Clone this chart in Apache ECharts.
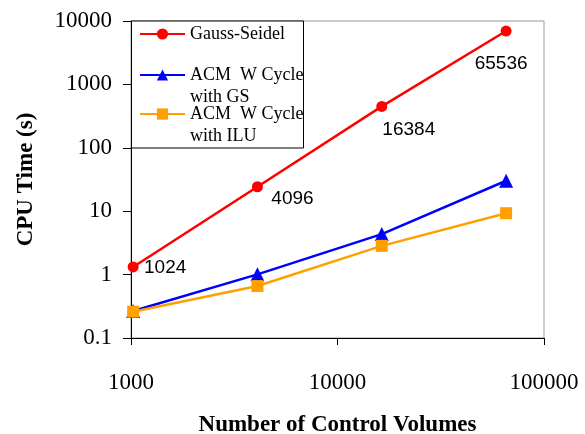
<!DOCTYPE html>
<html>
<head>
<meta charset="utf-8">
<script src="https://cdn.jsdelivr.net/npm/echarts@6/dist/echarts.min.js"></script>
<style>
  html, body { margin: 0; padding: 0; background: #fff; }
  #main { width: 585px; height: 434px; }
</style>
</head>
<body>
<div id="main"></div>
<script>
// control volumes (x) and CPU times (s)
var volumes = [1024, 4096, 16384, 65536];
var gaussSeidel = [1.32, 24.3, 450, 6950];
var acmGS = [0.267, 1.01, 4.35, 30.2];
var acmILU = [0.26, 0.66, 2.84, 9.3];
var seriesNames = ['Gauss-Seidel', 'ACM  W Cycle\nwith GS', 'ACM  W Cycle\nwith ILU'];

// where the point labels sit, relative to each point
var labelOffsets = [[32, 1], [35, 12], [27, 23], [-5, 33]];

function pairs(ys, withLabels) {
  return volumes.map(function (x, i) {
    var item = { value: [x, ys[i]] };
    if (withLabels) item.label = { offset: labelOffsets[i] };
    return item;
  });
}

var serif = 'Liberation Serif';
var myChart = echarts.init(document.getElementById('main'));

var axisLabelFmt = function (v) { return String(+Number(v).toPrecision(6)); };
// blank line on top so the icon lines up with the first text line
var twoLine = function (name) { return '\n' + name; };

var legendBase = {
  left: 139, z: 20, itemWidth: 45, itemHeight: 14, itemGap: 0, padding: 0,
  textStyle: { fontFamily: serif, fontSize: 18, color: '#000', lineHeight: 22 }
};

var option = {
  animation: false,
  backgroundColor: '#fff',
  grid: {
    left: 131, right: 41, top: 21, bottom: 96,
    outerBoundsMode: 'none',
    show: true, borderColor: '#999', borderWidth: 1
  },
  xAxis: {
    type: 'log', logBase: 10, min: 1000, max: 100000,
    name: 'Number of Control Volumes',
    nameLocation: 'middle', nameGap: 76,
    nameTextStyle: { fontFamily: serif, fontWeight: 'bold', fontSize: 23, color: '#000' },
    axisLine: { lineStyle: { color: '#000', width: 1 } },
    axisTick: { length: 7, lineStyle: { color: '#000' } },
    axisLabel: { margin: 33, fontFamily: serif, fontSize: 23, color: '#000', formatter: axisLabelFmt },
    splitLine: { show: false },
    minorTick: { show: false }
  },
  yAxis: {
    type: 'log', logBase: 10, min: 0.1, max: 10000,
    name: 'CPU Time (s)',
    nameLocation: 'middle', nameGap: 93,
    nameTextStyle: { fontFamily: serif, fontWeight: 'bold', fontSize: 23, color: '#000' },
    axisLine: { show: true, lineStyle: { color: '#000', width: 1 } },
    axisTick: { show: true, length: 8, lineStyle: { color: '#000' } },
    axisLabel: { margin: 19, fontFamily: serif, fontSize: 23, color: '#000', formatter: axisLabelFmt },
    splitLine: { show: false }
  },
  graphic: [{
    type: 'rect', z: 10, silent: true,
    shape: { x: 131.5, y: 21, width: 172, height: 127 },
    style: { fill: '#fff', stroke: '#000', lineWidth: 1 }
  }],
  legend: [
    Object.assign({}, legendBase, { data: [seriesNames[0]], top: 23 }),
    Object.assign({}, legendBase, { data: [seriesNames[1]], top: 42, formatter: twoLine }),
    Object.assign({}, legendBase, { data: [seriesNames[2]], top: 81, formatter: twoLine })
  ],
  series: [
    {
      name: seriesNames[0], type: 'line',
      data: pairs(gaussSeidel, true),
      symbol: 'circle', symbolSize: 11,
      lineStyle: { color: '#ff0000', width: 2.5 },
      itemStyle: { color: '#ff0000' },
      label: {
        show: true, position: 'inside',
        fontFamily: 'Liberation Sans', fontSize: 19, color: '#000',
        formatter: function (p) { return p.value[0]; }
      }
    },
    {
      name: seriesNames[1], type: 'line',
      data: pairs(acmGS, false),
      symbol: 'triangle', symbolSize: 14,
      lineStyle: { color: '#0000ff', width: 2.5 },
      itemStyle: { color: '#0000ff' }
    },
    {
      name: seriesNames[2], type: 'line',
      data: pairs(acmILU, false),
      symbol: 'rect', symbolSize: 12,
      lineStyle: { color: '#ffa000', width: 2.5 },
      itemStyle: { color: '#ffa000' }
    }
  ]
};
myChart.setOption(option);
</script>
</body>
</html>
